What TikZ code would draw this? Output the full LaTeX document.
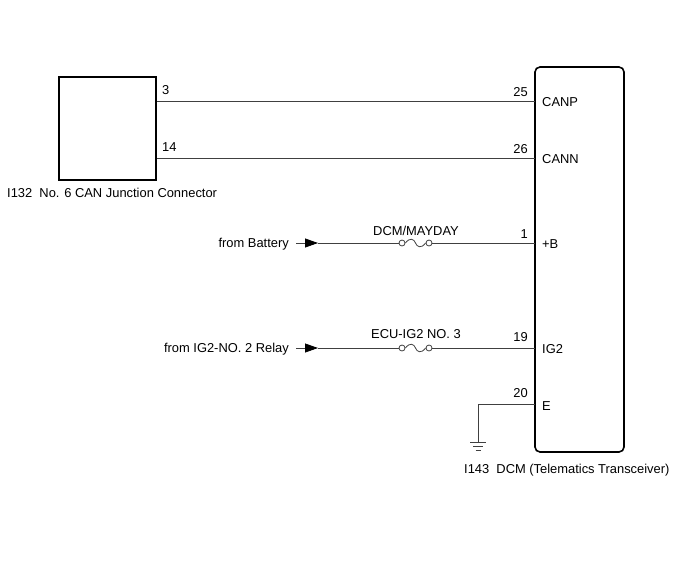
\documentclass[tikz,border=0pt]{standalone}
\usepackage{fontspec}
\setmainfont{Liberation Sans}
\usetikzlibrary{arrows.meta}
\usetikzlibrary{positioning}
\tikzset{wire/.style = {draw=black!75, line width=0.8pt}}
\tikzset{part/.style = {draw, line width=1.6pt, inner sep=0}}
\tikzset{fusering/.style = {draw=black!75, fill=white, circle, line width=0.8pt, inner sep=0, minimum size=6}}
\tikzset{lbl/.style = {font=\fontsize{12.9}{14}\selectfont, inner sep=1pt}}
\tikzset{feed/.style = {wire, -{Triangle[length=13pt, width=9pt, color=black]}}}

\begin{document}
\begin{tikzpicture}[x=1pt, y=-1pt]
    \useasboundingbox (0, 0) rectangle (688, 560);

    % connectors
    \node [part, minimum width=97, minimum height=103] (jc) at (107.5, 128.5) {};
    \node [part, rounded corners=5, minimum width=89, minimum height=385] (dcm) at (579.5, 259.5) {};
    \node [lbl, anchor=west] at (6, 193) {I132\ \ No. 6 CAN Junction Connector};
    \node [lbl, anchor=west] at (463, 470) {I143\ \ DCM (Telematics Transceiver)};

    % pins on the DCM
    \coordinate (canp) at (535, 101);
    \coordinate (cann) at (535, 158);
    \coordinate (pwr) at (535, 243);
    \coordinate (ign) at (535, 348);
    \coordinate (gnd) at (535, 404);

    % CAN lines
    \draw [wire] (jc.east |- canp) -- (canp);
    \draw [wire] (jc.east |- cann) -- (cann);
    \node [lbl, anchor=south west] at (161, 96) {3};
    \node [lbl, anchor=south west] at (161, 153) {14};
    \node [lbl, anchor=south east] at (529, 98) {25};
    \node [lbl, anchor=south east] at (529, 155) {26};
    \node [lbl, anchor=west] at (541, 102) {CANP};
    \node [lbl, anchor=west] at (541, 159) {CANN};

    % supply lines
    \node [lbl, anchor=east] (bat) at (290, 244) {from Battery};
    \node [lbl, anchor=east] (relay) at (290, 349) {from IG2-NO. 2 Relay};
    \coordinate (bat tip) at (318, 243);
    \coordinate (relay tip) at (318, 348);
    \draw [feed] (bat.east |- bat tip) ++(6, 0) -- (bat tip);
    \draw [feed] (relay.east |- relay tip) ++(6, 0) -- (relay tip);

    \node [fusering] (f1a) at (402, 243) {};
    \node [fusering] (f1b) at (429, 243) {};
    \node [fusering] (f2a) at (402, 348) {};
    \node [fusering] (f2b) at (429, 348) {};
    \draw [wire] (bat tip) -- (f1a);
    \draw [wire] (f1b) -- (pwr);
    \draw [wire] (relay tip) -- (f2a);
    \draw [wire] (f2b) -- (ign);
    \draw [wire] (f1a.east) .. controls (410, 237) and (414, 239) .. (415.5, 243) .. controls (417, 247) and (421, 249) .. (f1b.west);
    \draw [wire] (f2a.east) .. controls (410, 342) and (414, 344) .. (415.5, 348) .. controls (417, 352) and (421, 354) .. (f2b.west);
    \node [lbl, anchor=south] at (416, 237) {DCM/MAYDAY};
    \node [lbl, anchor=south] at (416, 340) {ECU-IG2 NO. 3};

    \node [lbl, anchor=south east] at (529, 240) {1};
    \node [lbl, anchor=south east] at (529, 343) {19};
    \node [lbl, anchor=west] at (541, 244) {+B};
    \node [lbl, anchor=west] at (541, 349) {IG2};

    % ground
    \coordinate (earth) at (478, 442);
    \draw [wire] (gnd) -| (earth);
    \draw [wire] (470, 442) -- (486, 442);
    \draw [wire] (473, 446) -- (483, 446);
    \draw [wire] (475.5, 450) -- (480.5, 450);
    \node [lbl, anchor=south east] at (529, 399) {20};
    \node [lbl, anchor=west] at (541, 406) {E};
\end{tikzpicture}
\end{document}
